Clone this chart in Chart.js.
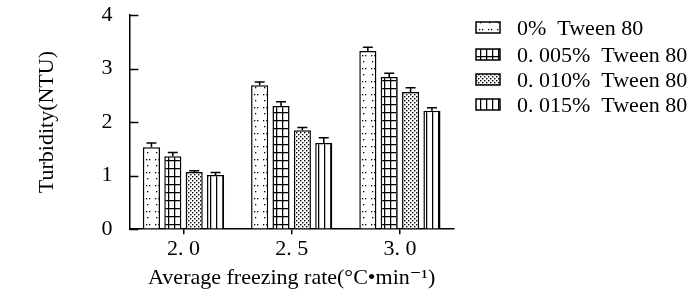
<!DOCTYPE html>
<html>
<head>
<meta charset="utf-8">
<script src="https://cdn.jsdelivr.net/npm/chart.js@4/dist/chart.umd.min.js"></script>
<style>
  html, body { margin: 0; padding: 0; background: #fff; }
  #wrap { width: 700px; height: 297px; }
</style>
</head>
<body>
<div id="wrap"><canvas id="turbidityChart" width="700" height="297"></canvas></div>
<script>
const categories = ["2. 0", "2. 5", "3. 0"];
const seriesLabels = ["0%  Tween 80", "0. 005%  Tween 80", "0. 010%  Tween 80", "0. 015%  Tween 80"];
const tween0 = [1.53, 2.69, 3.33];
const tween005 = [1.36, 2.30, 2.84];
const tween010 = [1.07, 1.85, 2.56];
const tween015 = [1.01, 1.61, 2.21];
const err0 = [0.08, 0.06, 0.07];
const err005 = [0.07, 0.08, 0.07];
const err010 = [0.02, 0.05, 0.08];
const err015 = [0.05, 0.10, 0.06];
const yTicks = [0, 1, 2, 3, 4];

const serif = "'Liberation Serif', 'DejaVu Serif', serif";

// fill patterns for the four bars
const makePattern = (w, h, draw) => {
  const c = document.createElement("canvas");
  c.width = w;
  c.height = h;
  const g = c.getContext("2d");
  g.fillStyle = "#fff";
  g.fillRect(0, 0, w, h);
  g.fillStyle = "#000";
  g.strokeStyle = "#000";
  draw(g);
  return document.createElement("canvas").getContext("2d").createPattern(c, "repeat");
};
const sparseDots = makePattern(9, 13, (g) => {
  g.fillRect(2, 3, 1.3, 1.3);
  g.fillRect(5, 3, 1.3, 1.3);
  g.fillRect(3, 9, 1.3, 1.3);
});
const gridLines = makePattern(6, 8, (g) => {
  g.lineWidth = 1.5;
  g.beginPath();
  g.moveTo(0.5, 0);
  g.lineTo(0.5, 8);
  g.moveTo(0, 0.5);
  g.lineTo(6, 0.5);
  g.stroke();
});
const denseDots = makePattern(4, 4, (g) => {
  g.fillRect(0, 0, 1.4, 1.4);
  g.fillRect(2, 2, 1.4, 1.4);
});
const vertLines = makePattern(6, 4, (g) => {
  g.lineWidth = 1.5;
  g.beginPath();
  g.moveTo(0.5, 0);
  g.lineTo(0.5, 4);
  g.stroke();
});
const fills = [sparseDots, gridLines, denseDots, vertLines];
const values = [tween0, tween005, tween010, tween015];
const errors = [err0, err005, err010, err015];

const errorBars = {
  id: "errorBars",
  afterDatasetsDraw: (chart) => {
    const ctx = chart.ctx;
    const yScale = chart.scales.y;
    ctx.save();
    ctx.strokeStyle = "#000";
    ctx.lineWidth = 1.5;
    chart.data.datasets.forEach((ds, i) => {
      chart.getDatasetMeta(i).data.forEach((bar, j) => {
        const v = ds.data[j];
        const top = yScale.getPixelForValue(v + errors[i][j]);
        const base = yScale.getPixelForValue(v);
        ctx.beginPath();
        ctx.moveTo(bar.x, base);
        ctx.lineTo(bar.x, top);
        ctx.moveTo(bar.x - 5, top);
        ctx.lineTo(bar.x + 5, top);
        ctx.stroke();
      });
    });
    ctx.restore();
  },
};

// y ticks in the source point inward, draw them by hand
const axisExtras = {
  id: "axisExtras",
  afterDraw: (chart) => {
    const ctx = chart.ctx;
    const y = chart.scales.y;
    const left = chart.chartArea.left;
    ctx.save();
    ctx.strokeStyle = "#000";
    ctx.lineWidth = 1.5;
    ctx.beginPath();
    yTicks.forEach((t) => {
      const py = Math.round(y.getPixelForValue(t)) + 0.5;
      ctx.moveTo(left, py);
      ctx.lineTo(left + 9, py);
    });
    ctx.stroke();

    // legend
    const rows = [28, 55, 80, 105];
    ctx.font = "22px " + serif;
    ctx.fillStyle = "#000";
    ctx.textBaseline = "middle";
    rows.forEach((ry, i) => {
      ctx.fillStyle = fills[i];
      ctx.fillRect(476, ry - 6, 24, 11);
      ctx.strokeRect(476, ry - 6, 24, 11);
      ctx.fillStyle = "#000";
      ctx.fillText(seriesLabels[i], 517, ry + 1);
    });
    ctx.restore();
  },
};

new Chart(document.getElementById("turbidityChart").getContext("2d"), {
  type: "bar",
  data: {
    labels: categories,
    datasets: seriesLabels.map((label, i) => ({
      label: label,
      data: values[i],
      backgroundColor: fills[i],
      borderColor: "#000",
      borderWidth: 1.5,
      borderSkipped: "bottom",
      categoryPercentage: 0.79,
      barPercentage: 0.8,
    })),
  },
  plugins: [errorBars, axisExtras],
  options: {
    responsive: false,
    animation: false,
    layout: {
      padding: { left: 34, right: 246, top: 0, bottom: 6 },
    },
    plugins: {
      legend: { display: false },
      tooltip: { enabled: false },
    },
    scales: {
      y: {
        min: 0,
        max: 4,
        afterBuildTicks: (scale) => {
          scale.ticks = yTicks.map((v) => ({ value: v }));
        },
        afterFit: (scale) => {
          // tick padding otherwise gets added above the top label
          scale.paddingTop = 15;
          scale.paddingBottom = 0;
        },
        grid: { drawOnChartArea: false, drawTicks: false, color: "#000", lineWidth: 1.5 },
        border: { color: "#000", width: 1.5 },
        ticks: {
          color: "#000",
          padding: 17,
          font: { family: serif, size: 22, lineHeight: 1 },
        },
        title: {
          display: true,
          text: "Turbidity(NTU)",
          color: "#000",
          padding: { top: 0, bottom: 24 },
          font: { family: serif, size: 22 },
        },
      },
      x: {
        grid: { drawOnChartArea: false, offset: false, tickLength: 5, color: "#000", lineWidth: 1.5 },
        border: { color: "#000", width: 1.5 },
        ticks: {
          color: "#000",
          padding: 2,
          font: { family: serif, size: 22 },
        },
        title: {
          display: true,
          text: "Average freezing rate(°C•min⁻¹)",
          color: "#000",
          padding: { top: 0, bottom: 0 },
          font: { family: serif, size: 22 },
        },
      },
    },
  },
});
</script>
</body>
</html>
